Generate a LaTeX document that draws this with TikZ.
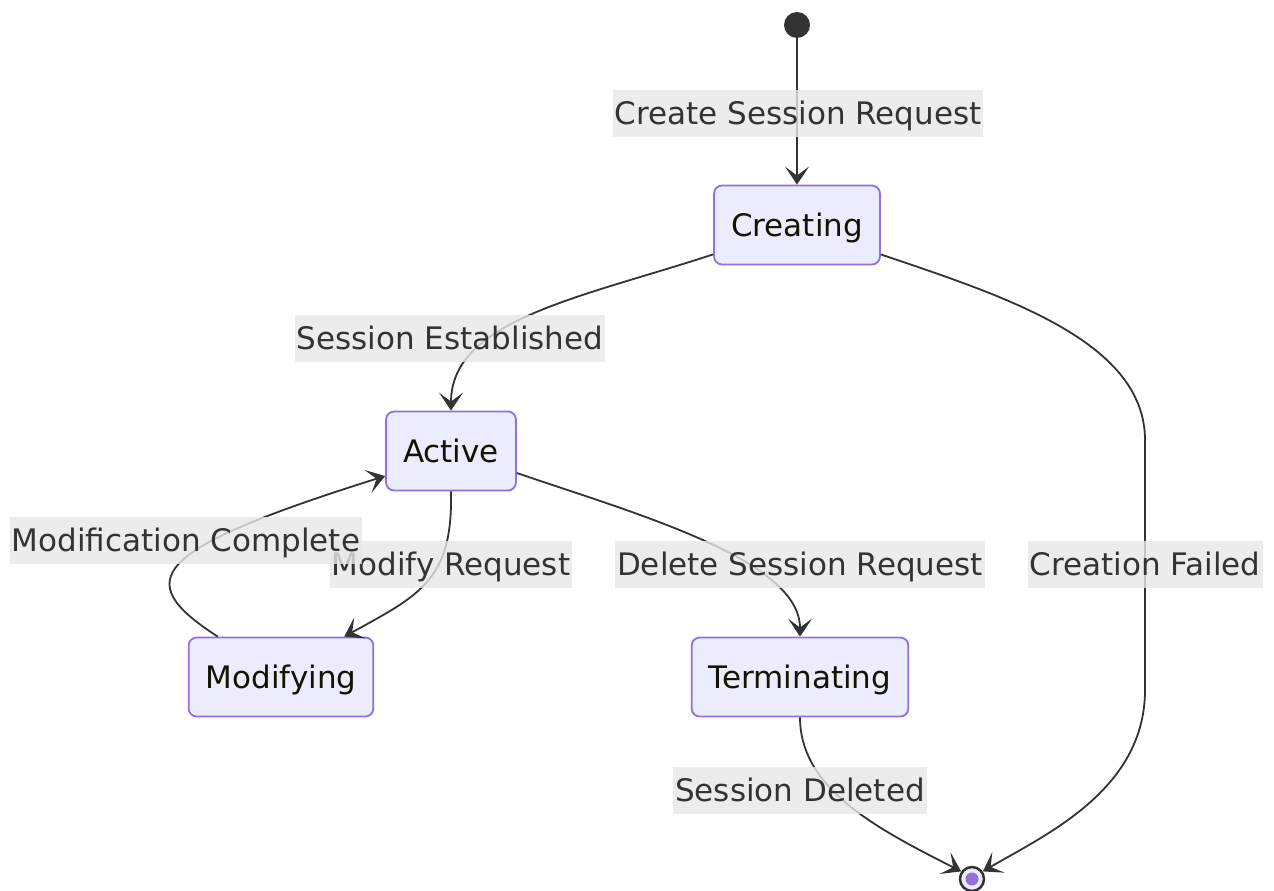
\documentclass[tikz,border=0pt]{standalone}
\usepackage{fontspec}
\setmainfont{DejaVu Sans}
\usetikzlibrary{arrows.meta,calc}
\definecolor{nodefill}{HTML}{ECECFF}
\definecolor{nodeborder}{HTML}{9370DB}
\definecolor{edgecol}{HTML}{333333}
\definecolor{labelbg}{HTML}{E8E8E8}
\definecolor{labeltext}{HTML}{333333}
\definecolor{nodetext}{HTML}{131300}
\tikzset{
  statebox/.style={draw=nodeborder, fill=nodefill, line width=1.8pt, rounded corners=8pt,
    minimum height=79pt, inner xsep=17pt, inner ysep=0pt, text=nodetext,
    font=\fontsize{31}{37}\selectfont, text height=24pt, text depth=2pt},
  edgelabel/.style={fill=labelbg, fill opacity=0.8, text opacity=1, text=labeltext,
    minimum height=47pt, inner xsep=2pt, inner ysep=0pt,
    font=\fontsize{31}{37}\selectfont, text height=24pt, text depth=1pt},
  edge/.style={draw=edgecol, line width=1.8pt,
    -{Stealth[length=18pt,width=24pt,inset=9pt]}},
  startdot/.style={circle, fill=edgecol, minimum size=26pt, inner sep=0pt},
  enddot/.style={circle, draw=edgecol, line width=2.5pt, fill=nodefill, minimum size=24pt, inner sep=0pt},
}
\begin{document}
\begin{tikzpicture}[x=1pt,y=-1pt]
\useasboundingbox[fill=white] (0,0) rectangle (1274,891);

% states
\node[startdot] (Start) at (797,25) {};
\node[statebox] (Creating) at (797,225) {Creating};
\node[statebox] (Active) at (451,451) {Active};
\node[statebox] (Modifying) at (281,677) {Modifying};
\node[statebox] (Terminating) at (800,677) {Terminating};
\node[enddot] (End) at (972,879) {};
\fill[nodeborder] (End.center) circle (6.5pt);

% edges
\draw[edge] (Start) -- (Creating.north);
\draw[edge] ($(Creating.south west)+(0,-11)$) .. controls (580,298) and (451,320) .. (Active.north);
\draw[edge] ($(Creating.south east)+(0,-11)$) .. controls (1000,295) and (1145,340) .. (1145,440)
   -- (1145,690) .. controls (1145,790) and (1045,835) .. (End.35);
\draw[edge] (Active.south) .. controls (453,580) and (420,595) .. ($(Modifying.north east)+(-30,0)$);
\draw[edge] ($(Modifying.north west)+(30,0)$) .. controls (130,580) and (150,550) .. ($(Active.west)+(0,25)$);
\draw[edge] ($(Active.east)+(0,22)$) .. controls (640,515) and (800,560) .. (Terminating.north);
\draw[edge] (Terminating.south) .. controls (800,790) and (880,830) .. (End.145);

% labels
\node[edgelabel] (lCreate) at (798,113) {Create Session Request};
\node[edgelabel] (lEst) at (450,338) {Session Established};
\node[edgelabel] (lModReq) at (451,564) {Modify Request};
\node[edgelabel] (lModComp) at (186,540) {Modification Complete};
\node[edgelabel] (lDel) at (800,564) {Delete Session Request};
\node[edgelabel] (lFail) at (1145,564) {Creation Failed};
\node[edgelabel] (lDeleted) at (800,790) {Session Deleted};
\end{tikzpicture}
\end{document}
